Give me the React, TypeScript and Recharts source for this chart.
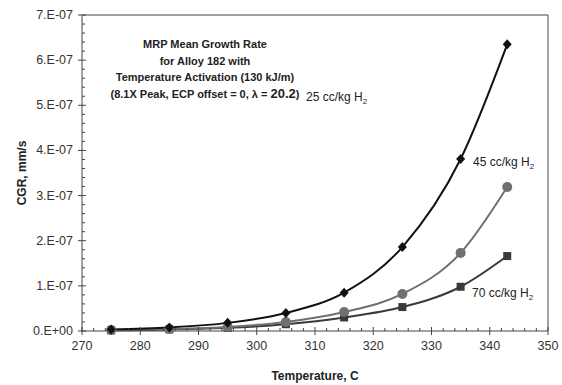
import { LineChart, Line, XAxis, YAxis, ReferenceLine } from 'recharts';

const temps = [275, 285, 295, 305, 315, 325, 335, 343];
const h2_25 = [0.035e-7, 0.08e-7, 0.18e-7, 0.4e-7, 0.85e-7, 1.86e-7, 3.81e-7, 6.35e-7];
const h2_45 = [0.02e-7, 0.045e-7, 0.09e-7, 0.2e-7, 0.42e-7, 0.82e-7, 1.73e-7, 3.19e-7];
const h2_70 = [0.015e-7, 0.035e-7, 0.07e-7, 0.15e-7, 0.3e-7, 0.53e-7, 0.98e-7, 1.66e-7];

const xTicks = Array.from({ length: 41 }, (_, i) => 270 + i * 2);
const yTicks = Array.from({ length: 36 }, (_, i) => i * 0.2e-7);

const titleLines = [
  'MRP Mean Growth Rate',
  'for Alloy 182 with',
  'Temperature Activation (130 kJ/m)',
];

const data = temps.map((t, i) => ({ t, a: h2_25[i], b: h2_45[i], c: h2_70[i] }));

const FONT = 'Arial, "Liberation Sans", sans-serif';
const AXIS = '#444';

const isMajorY = (v: number) => Math.abs(v / 1e-7 - Math.round(v / 1e-7)) < 1e-6;
const yLabel = (v: number) => {
  const m = Math.round(v / 1e-7);
  return m === 0 ? '0.E+00' : `${m}.E-07`;
};

function XTick(props: any) {
  const { x, y, payload } = props;
  const major = payload.value % 10 === 0;
  return (
    <g>
      <line x1={x} x2={x} y1={y - (major ? 4 : 3)} y2={y + (major ? 4 : 0)} stroke={AXIS} strokeWidth={1} />
      {major && (
        <text x={x} y={y + 19} textAnchor="middle" fontSize={12.5} fill="#333" fontFamily={FONT}>
          {payload.value}
        </text>
      )}
    </g>
  );
}

function YTick(props: any) {
  const { x, y, payload } = props;
  const major = isMajorY(payload.value);
  return (
    <g>
      <line x1={x - (major ? 4 : 0)} x2={x + (major ? 4 : 3)} y1={y} y2={y} stroke={AXIS} strokeWidth={1} />
      {major && (
        <text x={x - 9} y={y + 4} textAnchor="end" fontSize={12.5} fill="#333" fontFamily={FONT}>
          {yLabel(payload.value)}
        </text>
      )}
    </g>
  );
}

function Diamond(props: any) {
  const { cx, cy } = props;
  if (cx == null || cy == null) return null;
  return <polygon points={`${cx},${cy - 5} ${cx + 4.5},${cy} ${cx},${cy + 5} ${cx - 4.5},${cy}`} fill="#111" />;
}

function Circle(props: any) {
  const { cx, cy } = props;
  if (cx == null || cy == null) return null;
  return <circle cx={cx} cy={cy} r={5} fill="#707070" />;
}

function Square(props: any) {
  const { cx, cy } = props;
  if (cx == null || cy == null) return null;
  return <rect x={cx - 4} y={cy - 4} width={8} height={8} fill="#3a3a3a" />;
}

const textStyle: React.CSSProperties = {
  position: 'absolute',
  fontFamily: FONT,
  color: '#222',
  whiteSpace: 'nowrap',
};

export default function App() {
  return (
    <div style={{ position: 'absolute', left: 0, top: 0, width: 562, height: 385, background: '#fff' }}>
      <LineChart width={562} height={385} data={data} margin={{ top: 15, right: 14, left: 0, bottom: 0 }}>
        <XAxis
          dataKey="t"
          type="number"
          domain={[270, 350]}
          ticks={xTicks}
          interval={0}
          tick={<XTick />}
          tickLine={false}
          tickSize={0}
          tickMargin={0}
          axisLine={{ stroke: AXIS }}
          height={54}
          label={{ value: 'Temperature, C', position: 'insideBottom', offset: 5, style: { fontFamily: FONT, fontWeight: 'bold', fontSize: 12, fill: '#222' } }}
        />
        <YAxis
          type="number"
          domain={[0, 7e-7]}
          ticks={yTicks}
          interval={0}
          tick={<YTick />}
          tickLine={false}
          tickSize={0}
          tickMargin={0}
          axisLine={{ stroke: AXIS }}
          width={82}
          label={{ value: 'CGR, mm/s', angle: -90, position: 'insideLeft', offset: 22, style: { textAnchor: 'middle', fontFamily: FONT, fontWeight: 'bold', fontSize: 12, fill: '#222' } }}
        />
        <ReferenceLine y={7e-7} stroke={AXIS} />
        <ReferenceLine x={350} stroke={AXIS} />
        <Line type="monotone" dataKey="c" stroke="#3a3a3a" strokeWidth={2} dot={<Square />} isAnimationActive={false} />
        <Line type="monotone" dataKey="b" stroke="#707070" strokeWidth={2} dot={<Circle />} isAnimationActive={false} />
        <Line type="monotone" dataKey="a" stroke="#111" strokeWidth={2} dot={<Diamond />} isAnimationActive={false} />
      </LineChart>
      <div style={{ ...textStyle, left: 105, top: 36, width: 200, textAlign: 'center', fontWeight: 'bold', fontSize: 11, lineHeight: '16.5px' }}>
        {titleLines.map((l) => (
          <div key={l}>{l}</div>
        ))}
        <div>
          (8.1X Peak, ECP offset = 0, λ = <span style={{ fontSize: 13 }}>20.2</span>)
        </div>
      </div>
      <div style={{ ...textStyle, left: 306, top: 90, fontSize: 12 }}>
        25 cc/kg H<sub style={{ fontSize: 8 }}>2</sub>
      </div>
      <div style={{ ...textStyle, left: 473, top: 155, fontSize: 12 }}>
        45 cc/kg H<sub style={{ fontSize: 8 }}>2</sub>
      </div>
      <div style={{ ...textStyle, left: 472, top: 286, fontSize: 12 }}>
        70 cc/kg H<sub style={{ fontSize: 8 }}>2</sub>
      </div>
    </div>
  );
}
